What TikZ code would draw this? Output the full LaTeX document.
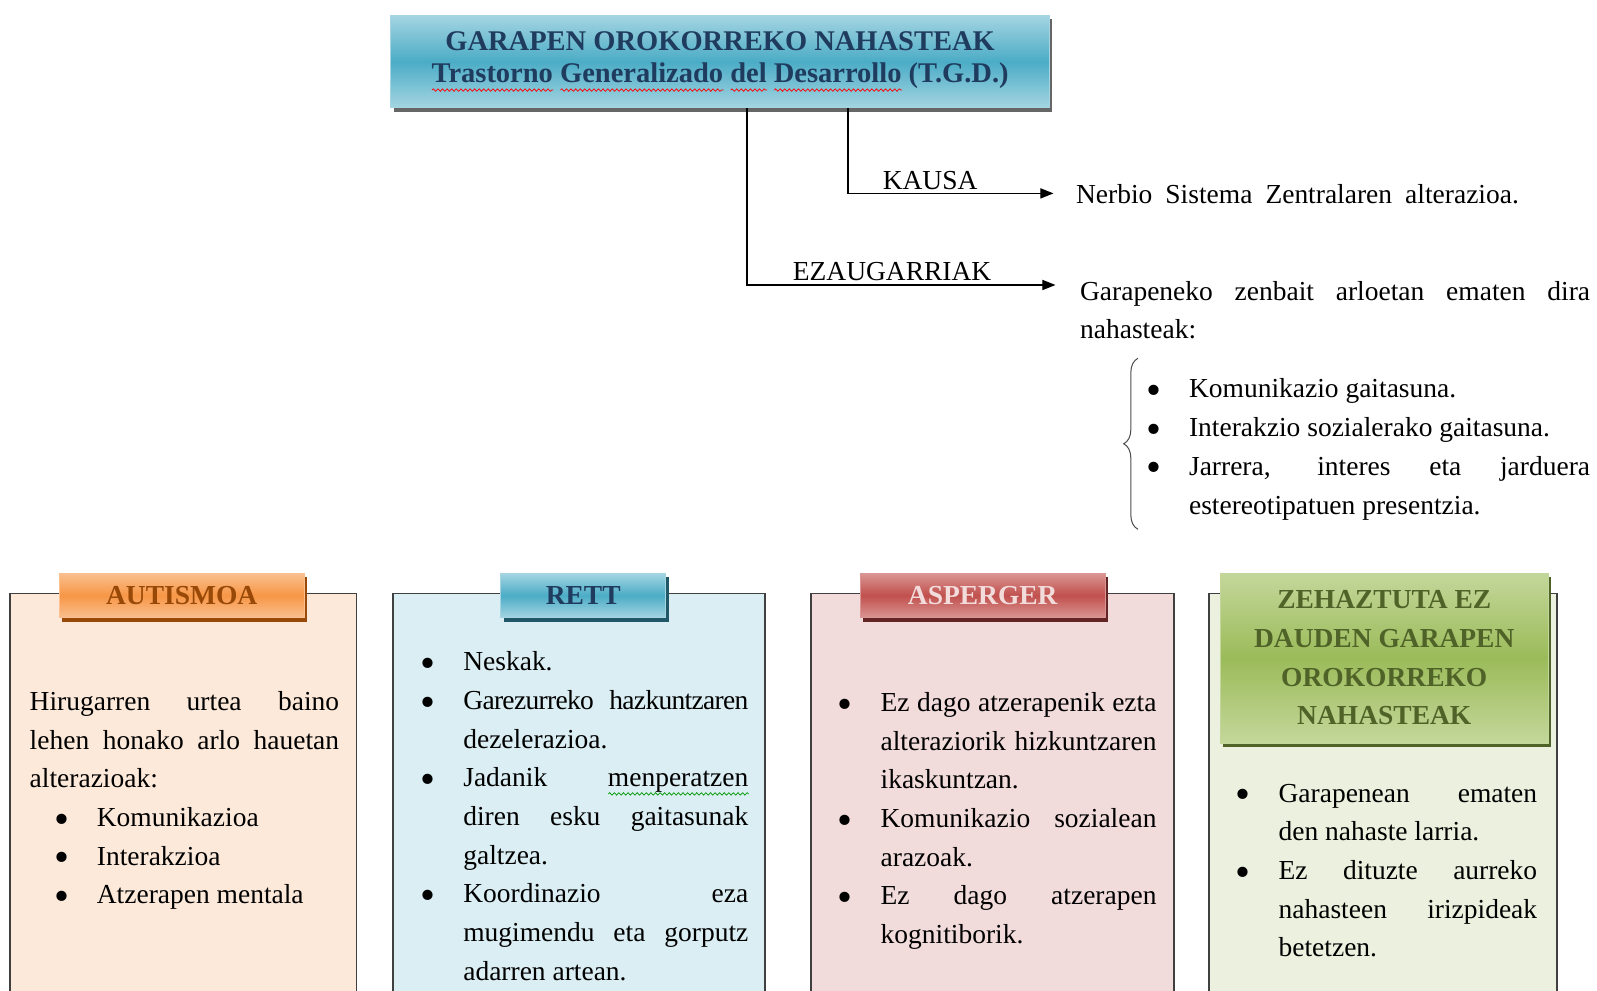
\documentclass[tikz,border=0pt]{standalone}
\usepackage{fontspec}
\setmainfont{Liberation Serif}
\usetikzlibrary{arrows.meta,shadows,decorations.pathreplacing,decorations.pathmorphing}

\definecolor{tgdlight}{HTML}{A5D5E2}
\definecolor{tgddark}{HTML}{4BACC6}
\definecolor{tgdtext}{HTML}{1F3B5E}
\definecolor{autlight}{HTML}{FAC090}
\definecolor{autdark}{HTML}{F79646}
\definecolor{autshadow}{HTML}{984807}
\definecolor{autfill}{HTML}{FDE9D9}
\definecolor{rettshadow}{HTML}{215868}
\definecolor{rettfill}{HTML}{DAEEF3}
\definecolor{asplight}{HTML}{DA9694}
\definecolor{aspdark}{HTML}{C0504D}
\definecolor{aspshadow}{HTML}{632523}
\definecolor{aspfill}{HTML}{F2DCDB}
\definecolor{zehlight}{HTML}{C4D79B}
\definecolor{zehdark}{HTML}{9BBB59}
\definecolor{zehshadow}{HTML}{4F6228}
\definecolor{zehfill}{HTML}{EBF1DE}

\hyphenpenalty=10000
\tolerance=9999
\hbadness=10000

% wavy underline of one word
\newlength\sqw
\newcommand\wavy[2]{\settowidth\sqw{#2}\rlap{\tikz[baseline=0pt,x=1pt,y=1pt]\draw[#1, line width=0.7pt,
  decorate, decoration={snake, amplitude=1.2pt, segment length=4.5pt}] (0pt,-7pt) -- (\sqw,-7pt);}#2}
% bullet, optional left offset
\newcommand\bul[1][0pt]{\hangindent=\dimexpr#1+42pt\relax\hangafter=1\hspace*{#1}%
  \makebox[42pt][l]{\raisebox{-6.5pt}{\fontsize{42}{42}\selectfont\textbullet}}\ignorespaces}

\begin{document}
\begin{tikzpicture}[x=1pt,y=-1pt,
  txt/.style={font=\fontsize{27}{38}\selectfont, inner sep=0pt},
  body/.style={txt, anchor=base west, align=justify},
  tab/.style n args={3}{top color=#1, bottom color=#1, middle color=#2, draw=#1,
    line width=0.8pt, general shadow={fill=#3, shadow xshift=3pt, shadow yshift=-4pt},
    font=\fontsize{27}{38}\selectfont\bfseries, align=center},
  frame/.style={anchor=north west, minimum height=390pt, inner sep=0pt},
  side/.style={draw=black!75, line width=1.6pt},
  conn/.style={line width=1.3pt, -{Triangle[length=13pt,width=10pt]}},
  lbl/.style={font=\fontsize{27}{32}\selectfont, above}]

% title
\node[tab={tgdlight}{tgddark}{black!60}, text=tgdtext, minimum width=647pt, minimum height=91pt,
  font=\fontsize{28}{32}\selectfont\bfseries] (tgd) at (707.5,60.5)
  {GARAPEN OROKORREKO NAHASTEAK\\ \wavy{red}{Trastorno} \wavy{red}{Generalizado} \wavy{red}{del} \wavy{red}{Desarrollo} (T.G.D.)};

% cause and features
\coordinate (kx) at (833,0);
\coordinate (ex) at (734,0);
\node[txt, anchor=base west, inner xsep=22pt] (nerbio) at (1035,200)
  {\makebox[435pt][s]{Nerbio Sistema Zentralaren alterazioa.}};
\node[body, inner xsep=24pt, text width=501pt] (ezaug) at (1037,295)
  {Garapeneko zenbait arloetan ematen dira\linebreak nahasteak:};
\draw[conn] (tgd.south -| kx) |- node[lbl, pos=0.7] (kausa) {KAUSA} ([yshift=10pt]nerbio.base west);
\draw[conn] (tgd.south -| ex) |- node[lbl, pos=0.735] (ezaugarriak) {EZAUGARRIAK} ([yshift=15pt]ezaug.base west);
\node[body, text width=436pt] (lst) at (1126,391)
  {\bul Komunikazio gaitasuna.\par
   \bul Interakzio sozialerako gaitasuna.\par
   \bul Jarrera, interes eta jarduera\linebreak estereotipatuen presentzia.\par};
\draw[decorate, decoration={brace, amplitude=14pt}, draw=black!70, line width=1pt] (1118,520) -- (1118,352);

% frames, open at the bottom
\node[frame, fill=autfill, minimum width=340pt] (autbox) at (10,583) {};
\node[frame, fill=rettfill, minimum width=365pt] (rettbox) at (386,583) {};
\node[frame, fill=aspfill, minimum width=356pt] (aspbox) at (797,583) {};
\node[frame, fill=zehfill, minimum width=341pt] (zehbox) at (1188,583) {};
\foreach \b in {autbox,rettbox,aspbox,zehbox}
  \draw[side] (\b.south west) -- (\b.north west) -- (\b.north east) -- (\b.south east);

% tabs
\node[tab={autlight}{autdark}{autshadow}, text=autshadow, minimum width=241pt, minimum height=44pt] (autismoa) at (178.5,585) {AUTISMOA};
\node[tab={tgdlight}{tgddark}{rettshadow}, text=tgdtext, minimum width=162pt, minimum height=44pt] (rett) at (573,585) {RETT};
\node[tab={asplight}{aspdark}{aspshadow}, text=aspfill, minimum width=241pt, minimum height=44pt] (asperger) at (965.5,585) {ASPERGER};
\node[tab={zehlight}{zehdark}{zehshadow}, text=zehshadow, minimum width=322pt, minimum height=167pt] (zehaztuta) at (1360,646.5)
  {ZEHAZTUTA EZ\\ DAUDEN GARAPEN\\ OROKORREKO\\ NAHASTEAK};

% texts
\node[body, text width=304pt] (auttxt) at (29,698)
  {Hirugarren urtea baino\linebreak lehen honako arlo hauetan\linebreak alterazioak:\par
   \bul[24pt] Komunikazioa\par
   \bul[24pt] Interakzioa\par
   \bul[24pt] Atzerapen mentala\par};
\node[body, text width=322pt] (retttxt) at (413,659)
  {\bul Neskak.\par
   \bul {\addfontfeature{LetterSpace=-2.5}Garezurreko hazkuntzaren}\linebreak dezelerazioa.\par
   \bul Jadanik \wavy{green!60!black}{menperatzen}\linebreak diren esku gaitasunak\linebreak galtzea.\par
   \bul Koordinazio eza\linebreak mugimendu eta gorputz\linebreak adarren artean.\par};
\node[body, text width=313pt] (asptxt) at (823,699)
  {\bul Ez dago atzerapenik ezta\linebreak alteraziorik hizkuntzaren\linebreak ikaskuntzan.\par
   \bul Komunikazio sozialean\linebreak arazoak.\par
   \bul Ez dago atzerapen\linebreak kognitiborik.\par};
\node[body, text width=296pt] (zehtxt) at (1214,788)
  {\bul Garapenean ematen\linebreak den nahaste larria.\par
   \bul Ez dituzte aurreko\linebreak nahasteen irizpideak\linebreak betetzen.\par};

% page in the proportions of the reference
\pgfresetboundingbox
\path[use as bounding box] (0,0) rectangle (1569,973);
\end{tikzpicture}
\end{document}
